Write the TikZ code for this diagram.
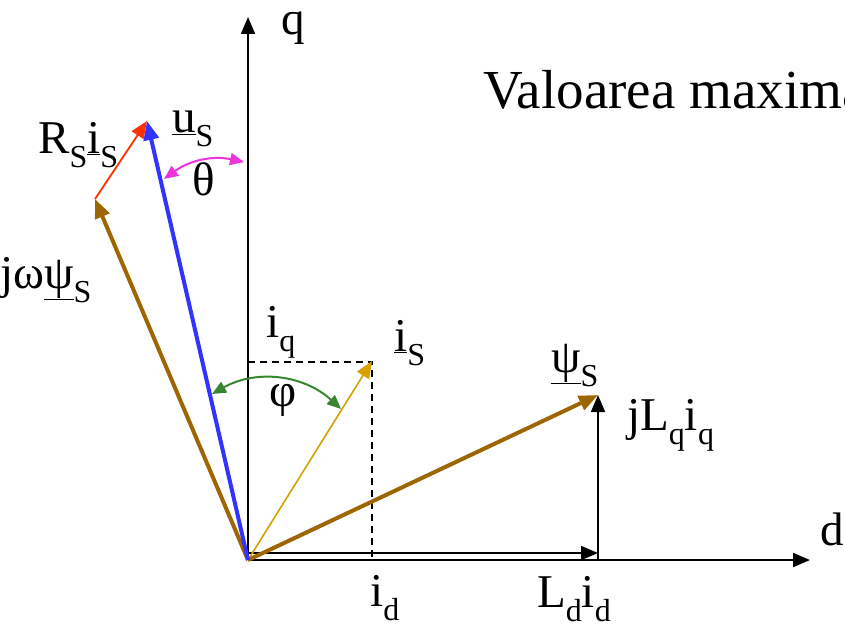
\documentclass[tikz,border=0pt]{standalone}
\usepackage{fontspec}
\setmainfont{Liberation Serif}
\usepackage{graphicx}
\usepackage{tikz}
\usetikzlibrary{arrows.meta}

\definecolor{usblue}{RGB}{51,51,255}
\definecolor{psibrown}{RGB}{158,102,0}
\definecolor{rsred}{RGB}{255,51,0}
\definecolor{isgold}{RGB}{214,160,0}
\definecolor{phigreen}{RGB}{56,135,48}
\definecolor{thmag}{RGB}{238,51,221}

\newcommand{\lo}[1]{\raisebox{-.3em}{\scalebox{.68}{#1}}}

\begin{document}
\begin{tikzpicture}[
  x=1pt, y=1pt,
  font=\fontsize{47}{56}\selectfont,
  tip/.style={-{Triangle[length=17pt,width=14pt]}},
  axis/.style={tip, line width=1.8pt, draw=black},
  vec/.style={tip, line width=1.8pt},
  bigvec/.style={-{Triangle[length=19pt,width=15pt]}, line width=4pt},
  helper/.style={line width=1.6pt, dash pattern=on 7pt off 5pt},
  angmark/.style={{Triangle[length=14pt,width=12pt]}-{Triangle[length=14pt,width=12pt]}, line width=2pt},
  lbl/.style={anchor=base west, inner sep=0pt}
]
\useasboundingbox (0,0) rectangle (845,-634);

% points of the diagram
\coordinate (O) at (248,-560);
\coordinate (qend) at (248,-17);
\coordinate (dend) at (810,-560);
\coordinate (us) at (147,-121);
\coordinate (jw) at (95,-199);
\coordinate (psi) at (598,-395);
\coordinate (dfoot) at (598,-560);
\coordinate (ldstart) at (248,-553);
\coordinate (ldend) at (598,-553);
\coordinate (is) at (372,-361);
\coordinate (iq) at (248,-362);
\coordinate (id) at (372,-560);
\coordinate (th1) at (164,-179);
\coordinate (th2) at (244,-162);
\coordinate (ph1) at (212,-394);
\coordinate (ph2) at (341,-409);

% axes
\draw[axis] (O) -- (qend);
\draw[axis] (O) -- (dend);

% projections of i_S
\draw[helper] (iq) -- (is |- iq) -- (id);

% vectors
\draw[vec] (ldstart) -- (ldend);
\draw[vec] (dfoot) -- (psi);
\draw[vec, draw=isgold, line width=1.6pt] (O) -- (is);
\draw[bigvec, draw=psibrown] (O) -- (psi);
\draw[bigvec, draw=psibrown] (O) -- (jw);
\draw[vec, draw=rsred] (jw) -- (us);
\draw[bigvec, draw=usblue] (O) -- (us);

% angles
\draw[angmark, draw=thmag] (th1) to[bend left=24] (th2);
\draw[angmark, draw=phigreen] (ph1) to[bend left=36] (ph2);

% labels
\node[lbl] (qlbl) at (281,-35) {q};
\node[lbl] (dlbl) at (820,-545) {d};
\node[lbl, font=\fontsize{55}{66}\selectfont] (title) at (483,-108) {Valoarea maximă};
\node[lbl] (uslbl) at (172,-132) {\underline{u}\lo{S}};
\node[lbl] (thlbl) at (192,-195) {θ};
\node[lbl] (rslbl) at (38,-153) {R\lo{S}\underline{i}\lo{S}};
\node[lbl] (jwlbl) at (0,-288) {jω\underline{ψ}\lo{S}};
\node[lbl] (iqlbl) at (266,-337) {i\lo{q}};
\node[lbl] (islbl) at (394,-351) {\underline{i}\lo{S}};
\node[lbl] (philbl) at (269,-406) {φ};
\node[lbl] (psilbl) at (551,-372) {\underline{ψ}\lo{S}};
\node[lbl] (lqlbl) at (627,-430) {jL\lo{q}i\lo{q}};
\node[lbl] (idlbl) at (370,-606) {i\lo{d}};
\node[lbl] (ldlbl) at (537,-607) {L\lo{d}i\lo{d}};
\end{tikzpicture}
\end{document}
